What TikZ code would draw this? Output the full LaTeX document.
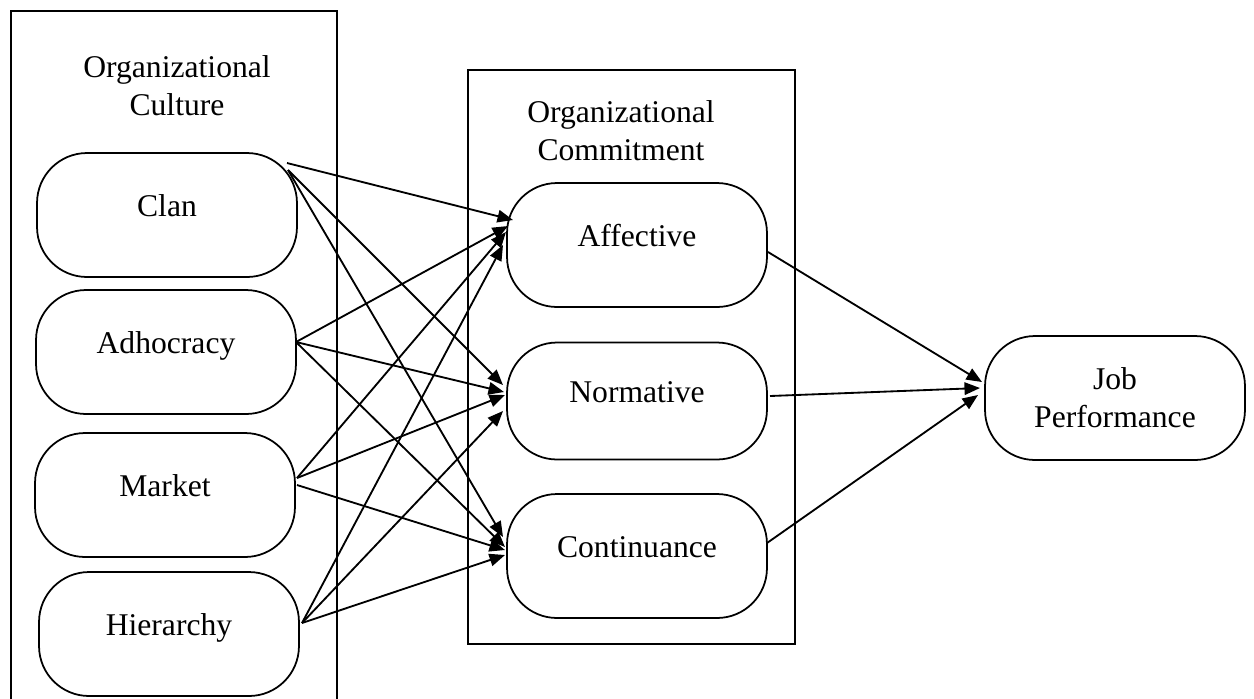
\documentclass[tikz,border=0pt]{standalone}
\usepackage{fontspec}
\setmainfont{Liberation Serif}
\usetikzlibrary{arrows.meta,positioning}

\begin{document}
\begin{tikzpicture}[x=0.02cm, y=-0.02cm,
  every node/.style={font=\fontsize{18}{21.6}\selectfont},
  frame/.style={draw, line width=1.3pt, inner sep=0pt, anchor=north west},
  pill/.style={draw, line width=1pt, rounded corners=1cm, minimum width=5.2cm, minimum height=2.48cm},
  word/.style={pill, text height=0.45cm, text depth=0.4cm},
  link/.style={-{Triangle[length=0.31cm,width=0.25cm]}, line width=1.05pt}
]
\useasboundingbox (0,0) rectangle (1254,698);
% outer frames
\node[frame, minimum width=6.52cm, minimum height=14.4cm] (culture) at (10,10) {};
\node[frame, minimum width=6.54cm, minimum height=11.48cm] (commit) at (467,69) {};
\node[align=center] (culturetitle) at (177,86) {Organizational\\Culture};
\node[align=center] (committitle) at (621,131) {Organizational\\Commitment};

% culture types
\node[word] (clan) at (167,215) {Clan};
\node[word] (adhoc) at (166,352) {Adhocracy};
\node[word] (market) at (165,495) {Market};
\node[word] (hier) at (169,634) {Hierarchy};

% commitment types
\node[word] (affect) at (637,245) {Affective};
\node[word, minimum height=2.34cm] (norm) at (637,401) {Normative};
\node[word] (contin) at (637,556) {Continuance};

\node[pill, align=center] (job) at (1115,398) {Job\\Performance};

% culture -> commitment
\draw[link] ([shift={(120,-52)}]clan.center) -- ([shift={(-124,-25)}]affect.center);
\draw[link] ([shift={(121,-45)}]clan.center) -- ([shift={(-134,-16)}]norm.center);
\draw[link] ([shift={(121,-45)}]clan.center) -- ([shift={(-134,-19)}]contin.center);
\draw[link] ([shift={(130,-10)}]adhoc.center) -- ([shift={(-129,-19)}]affect.center);
\draw[link] ([shift={(130,-10)}]adhoc.center) -- ([shift={(-133,-9)}]norm.center);
\draw[link] ([shift={(130,-10)}]adhoc.center) -- ([shift={(-132,-9)}]contin.center);
\draw[link] ([shift={(132,-17)}]market.center) -- ([shift={(-131,-13)}]affect.center);
\draw[link] ([shift={(132,-17)}]market.center) -- ([shift={(-132,-6)}]norm.center);
\draw[link] ([shift={(132,-10)}]market.center) -- ([shift={(-132,-6)}]contin.center);
\draw[link] ([shift={(133,-11)}]hier.center) -- ([shift={(-134,0)}]affect.center);
\draw[link] ([shift={(133,-11)}]hier.center) -- ([shift={(-134,10)}]norm.center);
\draw[link] ([shift={(133,-11)}]hier.center) -- ([shift={(-132,-1)}]contin.center);

% commitment -> performance
\draw[link] ([shift={(131,7)}]affect.center) -- ([shift={(-133,-16)}]job.center);
\draw[link] ([shift={(133,-5)}]norm.center) -- ([shift={(-135,-10)}]job.center);
\draw[link] ([shift={(130,-13)}]contin.center) -- ([shift={(-137,-3)}]job.center);
\end{tikzpicture}
\end{document}
